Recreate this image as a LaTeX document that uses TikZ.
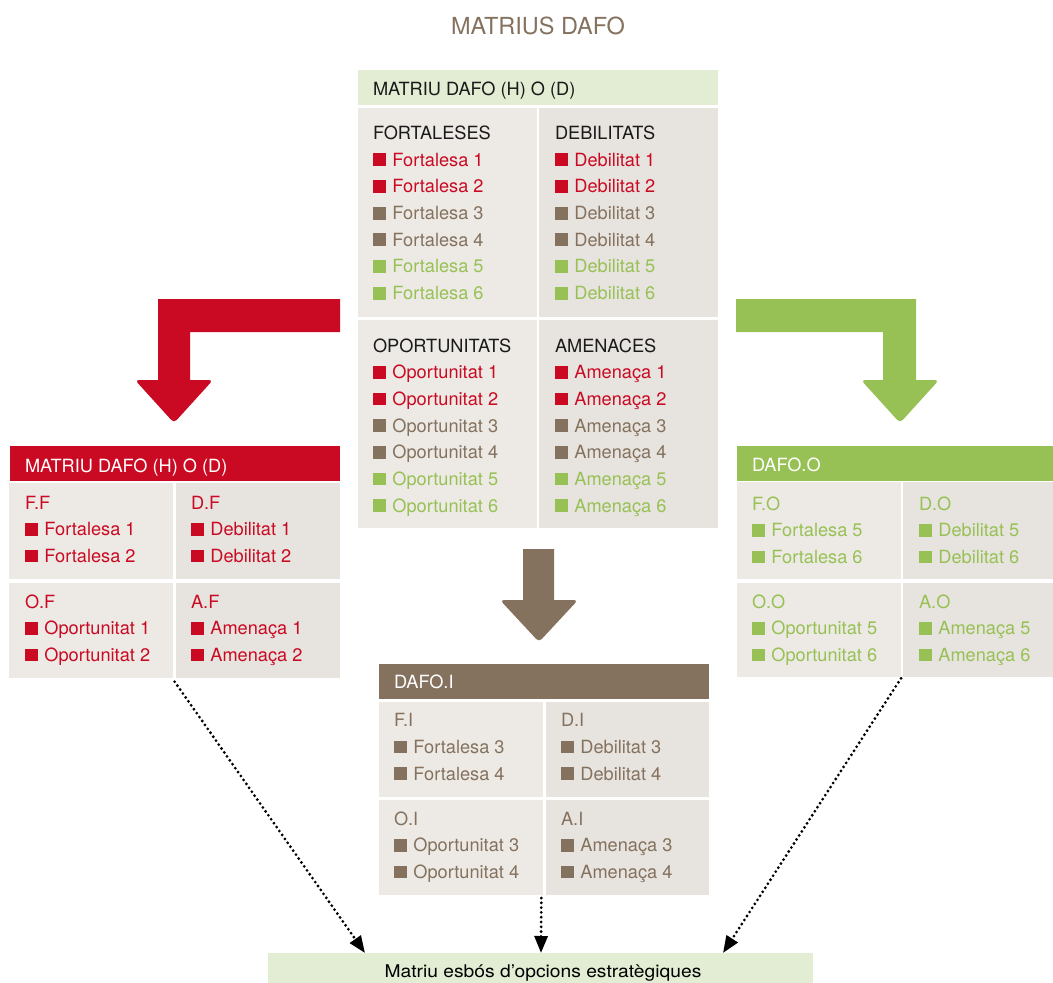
\documentclass[tikz,border=0pt]{standalone}
\usepackage{fontspec}
\setmainfont{TeX Gyre Heros}
\usetikzlibrary{arrows.meta,calc}

\definecolor{dred}{HTML}{CA0A23}
\definecolor{dgreen}{HTML}{97C155}
\definecolor{dbrown}{HTML}{84725F}
\definecolor{paleL}{HTML}{EDEAE5}
\definecolor{paleR}{HTML}{E7E3DE}
\definecolor{palegreen}{HTML}{E2EDD3}
\definecolor{ink}{HTML}{1A1A1A}

% coloured square bullet followed by its label
\newcommand\itm[2]{\textcolor{#1}{\rule{12.8pt}{12.8pt}\hspace{6.6pt}#2}}
% stacked lines whose baseline is the one of the first line
\newcommand\lines[1]{\begin{tabular}[t]{@{}l@{}}#1\end{tabular}}
% rectangle node given by its top-left and bottom-right corners
\newcommand\panel[6]{\node[#2, anchor=north west,
  minimum width={(#5-#3)*1pt}, minimum height={(#6-#4)*1pt}] (#1) at (#3,#4) {};}

\tikzset{
  box/.style={inner sep=0pt, outer sep=0pt, draw=none},
  cellL/.style={box, fill=paleL},
  cellR/.style={box, fill=paleR},
  txt/.style={inner sep=0pt, outer sep=0pt, anchor=base west,
    font=\fontsize{18.2}{26.67}\selectfont},
  dots/.style={line width=3.1pt, dash pattern=on 0pt off 4.8pt, line cap=round,
    -{Triangle[length=17pt,width=13pt]}},
}

\begin{document}
\begin{tikzpicture}[x=1pt,y=-1pt]
\useasboundingbox (0,0) rectangle (1053,983);

% title
\node[anchor=base, inner sep=0pt, font=\fontsize{23.5}{28}\selectfont, text=dbrown]
  (title) at (538,34) {MATRIUS DAFO};

% ---------- main matrix ----------
\panel{tHeadBox}{box, fill=palegreen}{358}{70}{718}{104.7}
\panel{tF}{cellL}{358}{108}{536.5}{316.7}
\panel{tD}{cellR}{539.3}{108}{718}{316.7}
\panel{tO}{cellL}{358}{320}{536.5}{528}
\panel{tA}{cellR}{539.3}{320}{718}{528}

\node[txt, text=ink] (tHead) at (373,95) {MATRIU DAFO (H) O (D)};
\node[txt] (tFtxt) at (373,139.5) {\lines{\textcolor{ink}{FORTALESES}\\
  \itm{dred}{Fortalesa 1}\\ \itm{dred}{Fortalesa 2}\\
  \itm{dbrown}{Fortalesa 3}\\ \itm{dbrown}{Fortalesa 4}\\
  \itm{dgreen}{Fortalesa 5}\\ \itm{dgreen}{Fortalesa 6}}};
\node[txt] (tDtxt) at (555,139.5) {\lines{\textcolor{ink}{DEBILITATS}\\
  \itm{dred}{Debilitat 1}\\ \itm{dred}{Debilitat 2}\\
  \itm{dbrown}{Debilitat 3}\\ \itm{dbrown}{Debilitat 4}\\
  \itm{dgreen}{Debilitat 5}\\ \itm{dgreen}{Debilitat 6}}};
\node[txt] (tOtxt) at (373,352) {\lines{\textcolor{ink}{OPORTUNITATS}\\
  \itm{dred}{Oportunitat 1}\\ \itm{dred}{Oportunitat 2}\\
  \itm{dbrown}{Oportunitat 3}\\ \itm{dbrown}{Oportunitat 4}\\
  \itm{dgreen}{Oportunitat 5}\\ \itm{dgreen}{Oportunitat 6}}};
\node[txt] (tAtxt) at (555,352) {\lines{\textcolor{ink}{AMENACES}\\
  \itm{dred}{Amenaça 1}\\ \itm{dred}{Amenaça 2}\\
  \itm{dbrown}{Amenaça 3}\\ \itm{dbrown}{Amenaça 4}\\
  \itm{dgreen}{Amenaça 5}\\ \itm{dgreen}{Amenaça 6}}};

% ---------- block arrows ----------
\fill[dred] (340,299) -- (158,299) -- (158,380)
  [rounded corners=4pt] -- (135,380) -- (174,423) -- (213,380) [sharp corners]
  -- (190,380) -- (190,332) -- (340,332) -- cycle;
\fill[dgreen] (736,299) -- (916,299) -- (916,380)
  [rounded corners=4pt] -- (939,380) -- (900,423) -- (861,380) [sharp corners]
  -- (883,380) -- (883,332) -- (736,332) -- cycle;
\fill[dbrown] (523,549) -- (554,549) -- (554,600)
  [rounded corners=4pt] -- (578,600) -- (539,642) -- (500,600) [sharp corners]
  -- (523,600) -- cycle;

% ---------- red matrix ----------
\panel{rHeadBox}{box, fill=dred}{10}{446}{340}{481}
\panel{rFF}{cellL}{9.3}{483.3}{173.3}{579.3}
\panel{rDF}{cellR}{176}{483.3}{340}{579.3}
\panel{rOF}{cellL}{9.3}{582.7}{173.3}{677.7}
\panel{rAF}{cellR}{176}{582.7}{340}{677.7}

\node[txt, text=white] (rHead) at (25,472) {MATRIU DAFO (H) O (D)};
\node[txt, text=dred] (rFFtxt) at (25,509) {\lines{F.F\\ \itm{dred}{Fortalesa 1}\\ \itm{dred}{Fortalesa 2}}};
\node[txt, text=dred] (rDFtxt) at (191,509) {\lines{D.F\\ \itm{dred}{Debilitat 1}\\ \itm{dred}{Debilitat 2}}};
\node[txt, text=dred] (rOFtxt) at (25,608) {\lines{O.F\\ \itm{dred}{Oportunitat 1}\\ \itm{dred}{Oportunitat 2}}};
\node[txt, text=dred] (rAFtxt) at (191,608) {\lines{A.F\\ \itm{dred}{Amenaça 1}\\ \itm{dred}{Amenaça 2}}};

% ---------- green matrix ----------
\panel{gHeadBox}{box, fill=dgreen}{736.7}{446}{1053}{481}
\panel{gFO}{cellL}{736.7}{482.3}{900.7}{579.3}
\panel{gDO}{cellR}{903.3}{482.3}{1053}{579.3}
\panel{gOO}{cellL}{736.7}{583}{900.7}{677.3}
\panel{gAO}{cellR}{903.3}{583}{1053}{677.3}

\node[txt, text=white] (gHead) at (752,471) {DAFO.O};
\node[txt, text=dgreen] (gFOtxt) at (752,510) {\lines{F.O\\ \itm{dgreen}{Fortalesa 5}\\ \itm{dgreen}{Fortalesa 6}}};
\node[txt, text=dgreen] (gDOtxt) at (919,510) {\lines{D.O\\ \itm{dgreen}{Debilitat 5}\\ \itm{dgreen}{Debilitat 6}}};
\node[txt, text=dgreen] (gOOtxt) at (752,608) {\lines{O.O\\ \itm{dgreen}{Oportunitat 5}\\ \itm{dgreen}{Oportunitat 6}}};
\node[txt, text=dgreen] (gAOtxt) at (919,608) {\lines{A.O\\ \itm{dgreen}{Amenaça 5}\\ \itm{dgreen}{Amenaça 6}}};

% ---------- brown matrix ----------
\panel{bHeadBox}{box, fill=dbrown}{379}{664}{709}{699}
\panel{bFI}{cellL}{379}{701.7}{543.3}{796.7}
\panel{bDI}{cellR}{546}{701.7}{709}{796.7}
\panel{bOI}{cellL}{379}{800}{543.3}{895}
\panel{bAI}{cellR}{546}{800}{709}{895}

\node[txt, text=white] (bHead) at (394,688.5) {DAFO.I};
\node[txt, text=dbrown] (bFItxt) at (394,726.7) {\lines{F.I\\ \itm{dbrown}{Fortalesa 3}\\ \itm{dbrown}{Fortalesa 4}}};
\node[txt, text=dbrown] (bDItxt) at (561,726.7) {\lines{D.I\\ \itm{dbrown}{Debilitat 3}\\ \itm{dbrown}{Debilitat 4}}};
\node[txt, text=dbrown] (bOItxt) at (394,825) {\lines{O.I\\ \itm{dbrown}{Oportunitat 3}\\ \itm{dbrown}{Oportunitat 4}}};
\node[txt, text=dbrown] (bAItxt) at (561,825) {\lines{A.I\\ \itm{dbrown}{Amenaça 3}\\ \itm{dbrown}{Amenaça 4}}};

% ---------- result box ----------
\panel{esbos}{box, fill=palegreen}{268}{953}{813}{983}
\node[anchor=base, inner sep=0pt, font=\fontsize{17.5}{20}\selectfont, text=black]
  (esbosTxt) at (543,977.5) {\scalebox{1.1}[1]{Matriu esbós d’opcions estratègiques}};

% ---------- dotted connectors ----------
\coordinate (lStart) at ($(rOF.south east)!0.5!(rAF.south west)+(0,4)$);
\coordinate (cStart) at ($(bOI.south east)+(-2,3)$);
\coordinate (rStart) at ($(gOO.south east)!0.5!(gAO.south west)+(-1,1)$);
\coordinate (lEnd) at ($(esbos.north west)+(97,0)$);
\coordinate (cEnd) at ($(esbos.north west)+(273,0)$);
\coordinate (rEnd) at ($(esbos.north west)+(455,0)$);
\draw[dots] (lStart) -- (lEnd);
\draw[dots] (cStart) -- (cEnd);
\draw[dots] (rStart) -- (rEnd);
\end{tikzpicture}
\end{document}
